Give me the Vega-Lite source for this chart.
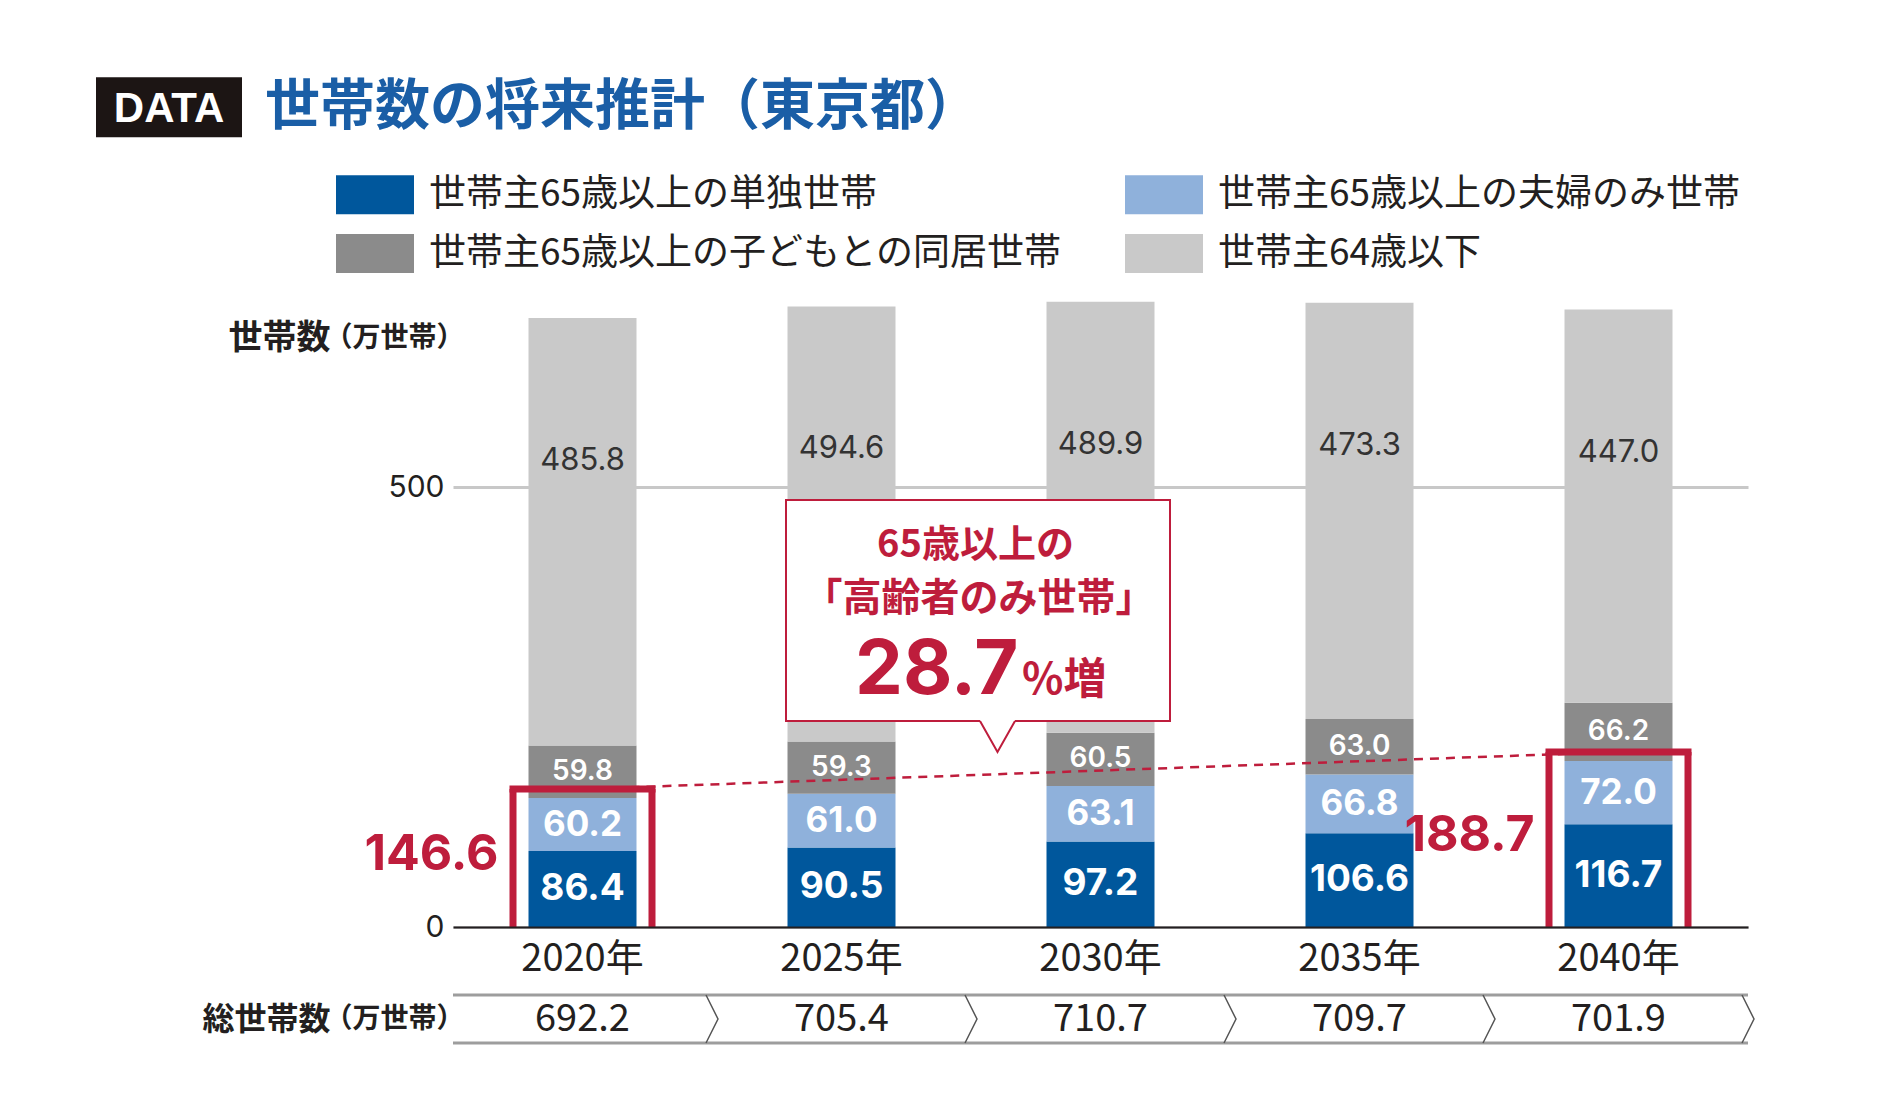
{
  "$schema": "https://vega.github.io/schema/vega-lite/v6.json",
  "width": 1295,
  "height": 651,
  "autosize": {"type": "none"},
  "padding": {"left": 453, "top": 276, "right": 132, "bottom": 193},
  "background": "#ffffff",
  "config": {"view": {"stroke": null}, "font": "Noto Sans CJK JP"},
  "datasets": {
    "seg": [
      {"year": "2020年", "cat": "世帯主65歳以上の単独世帯", "k": 1, "v": 86.4},
      {"year": "2020年", "cat": "世帯主65歳以上の夫婦のみ世帯", "k": 2, "v": 60.2},
      {"year": "2020年", "cat": "世帯主65歳以上の子どもとの同居世帯", "k": 3, "v": 59.8},
      {"year": "2020年", "cat": "世帯主64歳以下", "k": 4, "v": 485.8},
      {"year": "2025年", "cat": "世帯主65歳以上の単独世帯", "k": 1, "v": 90.5},
      {"year": "2025年", "cat": "世帯主65歳以上の夫婦のみ世帯", "k": 2, "v": 61.0},
      {"year": "2025年", "cat": "世帯主65歳以上の子どもとの同居世帯", "k": 3, "v": 59.3},
      {"year": "2025年", "cat": "世帯主64歳以下", "k": 4, "v": 494.6},
      {"year": "2030年", "cat": "世帯主65歳以上の単独世帯", "k": 1, "v": 97.2},
      {"year": "2030年", "cat": "世帯主65歳以上の夫婦のみ世帯", "k": 2, "v": 63.1},
      {"year": "2030年", "cat": "世帯主65歳以上の子どもとの同居世帯", "k": 3, "v": 60.5},
      {"year": "2030年", "cat": "世帯主64歳以下", "k": 4, "v": 489.9},
      {"year": "2035年", "cat": "世帯主65歳以上の単独世帯", "k": 1, "v": 106.6},
      {"year": "2035年", "cat": "世帯主65歳以上の夫婦のみ世帯", "k": 2, "v": 66.8},
      {"year": "2035年", "cat": "世帯主65歳以上の子どもとの同居世帯", "k": 3, "v": 63.0},
      {"year": "2035年", "cat": "世帯主64歳以下", "k": 4, "v": 473.3},
      {"year": "2040年", "cat": "世帯主65歳以上の単独世帯", "k": 1, "v": 116.7},
      {"year": "2040年", "cat": "世帯主65歳以上の夫婦のみ世帯", "k": 2, "v": 72.0},
      {"year": "2040年", "cat": "世帯主65歳以上の子どもとの同居世帯", "k": 3, "v": 66.2},
      {"year": "2040年", "cat": "世帯主64歳以下", "k": 4, "v": 447.0}
    ],
    "tot": [
      {"year": "2020年", "total": 692.2},
      {"year": "2025年", "total": 705.4},
      {"year": "2030年", "total": 710.7},
      {"year": "2035年", "total": 709.7},
      {"year": "2040年", "total": 701.9}
    ],
    "elderly": [
      {"year": "2020年", "v": 146.6},
      {"year": "2040年", "v": 188.7}
    ],
    "one": [{}]
  },
  "layer": [
    {
      "data": {"name": "seg"},
      "mark": {"type": "bar", "width": 108, "opacity": 1},
      "encoding": {
        "x": {
          "field": "year", "type": "nominal", "title": null,
          "scale": {"domain": ["2020年", "2025年", "2030年", "2035年", "2040年"], "paddingInner": 0, "paddingOuter": 0},
          "axis": {"ticks": false, "labelAngle": 0, "labelFontSize": 38, "labelPadding": 13, "labelColor": "#231f20", "labelFont": "Noto Sans CJK JP", "domainColor": "#231f20", "domainWidth": 2, "zindex": 1}
        },
        "y": {
          "field": "v", "type": "quantitative", "stack": "zero", "title": null,
          "scale": {"domain": [0, 740], "nice": false},
          "axis": {"values": [0, 500], "ticks": false, "domain": false, "grid": true, "gridColor": "#c8c8c8", "gridWidth": 3, "labelFontSize": 30, "labelPadding": 9, "labelColor": "#231f20", "labelFont": "Inter"}
        },
        "color": {
          "field": "cat", "type": "nominal",
          "scale": {
            "domain": ["世帯主65歳以上の単独世帯", "世帯主65歳以上の夫婦のみ世帯", "世帯主65歳以上の子どもとの同居世帯", "世帯主64歳以下"],
            "range": ["#00579c", "#8fb1db", "#8b8b8b", "#c9c9c9"]
          },
          "legend": {
            "orient": "none", "direction": "horizontal", "legendX": -117, "legendY": -120.5, "columns": 2, "title": null,
            "symbolType": "M-1,-0.5H1V0.5H-1Z", "symbolSize": 6084, "symbolStrokeWidth": 0, "symbolOpacity": 1,
            "labelFontSize": 37, "labelFont": "Noto Sans CJK JP", "labelColor": "#231f20", "labelOffset": 15, "labelLimit": 1200,
            "columnPadding": 62, "rowPadding": 0, "padding": 0
          }
        },
        "order": {"field": "k", "type": "quantitative"}
      }
    },
    {
      "data": {"name": "seg"},
      "mark": {"type": "text", "font": "Inter", "fontWeight": "bold", "fill": "#ffffff", "baseline": "middle"},
      "encoding": {
        "x": {"field": "year", "type": "nominal", "title": null},
        "y": {"field": "v", "type": "quantitative", "stack": "zero", "bandPosition": 0.5, "title": null},
        "detail": {"field": "cat"},
        "order": {"field": "k", "type": "quantitative"},
        "size": {"condition": {"test": "datum.k == 1", "value": 37}, "value": 35},
        "text": {"field": "v", "type": "quantitative", "format": ".1f", "condition": {"test": "datum.k > 2", "value": ""}}
      }
    },
    {
      "data": {"name": "seg"},
      "mark": {"type": "text", "font": "Inter", "fontWeight": 600, "fontSize": 28, "fill": "#ffffff", "baseline": "middle"},
      "encoding": {
        "x": {"field": "year", "type": "nominal", "title": null},
        "y": {"field": "v", "type": "quantitative", "stack": "zero", "bandPosition": 0.5, "title": null},
        "detail": {"field": "cat"},
        "order": {"field": "k", "type": "quantitative"},
        "text": {"field": "v", "type": "quantitative", "format": ".1f", "condition": {"test": "datum.k != 3", "value": ""}}
      }
    },
    {
      "data": {"name": "seg"},
      "mark": {"type": "text", "font": "Inter", "fontWeight": "normal", "fontSize": 31, "fill": "#333333", "baseline": "middle", "dy": 143},
      "encoding": {
        "x": {"field": "year", "type": "nominal", "title": null},
        "y": {"field": "v", "type": "quantitative", "stack": "zero", "title": null},
        "detail": {"field": "cat"},
        "order": {"field": "k", "type": "quantitative"},
        "text": {"field": "v", "type": "quantitative", "format": ".1f", "condition": {"test": "datum.k != 4", "value": ""}}
      }
    },
    {
      "data": {"name": "elderly"},
      "mark": {"type": "line", "stroke": "#be1d3c", "strokeWidth": 2.5, "strokeDash": [9, 7], "yOffset": -9},
      "encoding": {
        "x": {"field": "year", "type": "nominal", "title": null},
        "y": {"field": "v", "type": "quantitative", "title": null}
      }
    },
    {
      "data": {"name": "elderly"},
      "mark": {"type": "rule", "stroke": "#be1d3c", "strokeWidth": 7, "xOffset": -69.5, "yOffset": -9},
      "encoding": {
        "x": {"field": "year", "type": "nominal", "title": null},
        "y": {"field": "v", "type": "quantitative", "title": null},
        "y2": {"datum": 0}
      }
    },
    {
      "data": {"name": "elderly"},
      "mark": {"type": "rule", "stroke": "#be1d3c", "strokeWidth": 7, "xOffset": 69.5, "yOffset": -9},
      "encoding": {
        "x": {"field": "year", "type": "nominal", "title": null},
        "y": {"field": "v", "type": "quantitative", "title": null},
        "y2": {"datum": 0}
      }
    },
    {
      "data": {"name": "elderly"},
      "mark": {"type": "tick", "color": "#be1d3c", "size": 146, "thickness": 7, "opacity": 1, "orient": "horizontal", "yOffset": -9},
      "encoding": {
        "x": {"field": "year", "type": "nominal", "title": null},
        "y": {"field": "v", "type": "quantitative", "title": null}
      }
    },
    {
      "data": {"name": "elderly"},
      "mark": {"type": "text", "font": "Inter", "fontWeight": "bold", "fontSize": 50, "fill": "#be1d3c", "align": "right", "baseline": "middle", "dx": -84, "dy": -8},
      "encoding": {
        "x": {"field": "year", "type": "nominal", "title": null},
        "y": {"field": "v", "type": "quantitative", "stack": "zero", "bandPosition": 0.5, "title": null},
        "detail": {"field": "year"},
        "text": {"field": "v", "type": "quantitative", "format": ".1f"}
      }
    },
    {
      "data": {"name": "one"},
      "mark": {"type": "rule", "stroke": "#9d9d9d", "strokeWidth": 3, "yOffset": 68},
      "encoding": {"y": {"datum": 0, "type": "quantitative"}}
    },
    {
      "data": {"name": "one"},
      "mark": {"type": "rule", "stroke": "#9d9d9d", "strokeWidth": 3, "yOffset": 116},
      "encoding": {"y": {"datum": 0, "type": "quantitative"}}
    },
    {
      "data": {"name": "tot"},
      "mark": {"type": "point", "shape": "M-0.25,-1L0.25,0L-0.25,1", "size": 2304, "filled": false, "stroke": "#555555", "strokeWidth": 1.5, "opacity": 1, "xOffset": 129.5, "yOffset": 92},
      "encoding": {
        "x": {"field": "year", "type": "nominal", "title": null},
        "y": {"datum": 0, "type": "quantitative"}
      }
    },
    {
      "data": {"name": "tot"},
      "mark": {"type": "text", "fontSize": 38, "fill": "#231f20", "baseline": "middle", "dy": 93},
      "encoding": {
        "x": {"field": "year", "type": "nominal", "title": null},
        "y": {"datum": 0, "type": "quantitative"},
        "text": {"field": "total", "type": "quantitative", "format": ".1f"}
      }
    },
    {
      "data": {"name": "one"},
      "mark": {"type": "text", "fontSize": 28, "fontWeight": "bold", "fill": "#231f20", "align": "right", "baseline": "middle", "dx": -118, "text": "（万世帯）"},
      "encoding": {"x": {"datum": "2020年"}, "y": {"datum": 668.2, "type": "quantitative"}}
    },
    {
      "data": {"name": "one"},
      "mark": {"type": "text", "fontSize": 34, "fontWeight": "bold", "fill": "#231f20", "align": "right", "baseline": "middle", "dx": -252, "text": "世帯数"},
      "encoding": {"x": {"datum": "2020年"}, "y": {"datum": 668.2, "type": "quantitative"}}
    },
    {
      "data": {"name": "one"},
      "mark": {"type": "text", "fontSize": 28, "fontWeight": "bold", "fill": "#231f20", "align": "right", "baseline": "middle", "dx": -118, "dy": 93, "text": "（万世帯）"},
      "encoding": {"x": {"datum": "2020年"}, "y": {"datum": 0, "type": "quantitative"}}
    },
    {
      "data": {"name": "one"},
      "mark": {"type": "text", "fontSize": 32, "fontWeight": "bold", "fill": "#231f20", "align": "right", "baseline": "middle", "dx": -252, "dy": 93, "text": "総世帯数"},
      "encoding": {"x": {"datum": "2020年"}, "y": {"datum": 0, "type": "quantitative"}}
    },
    {
      "data": {"name": "one"},
      "mark": {"type": "point", "shape": "M-1,-0.5755H1V0.5755H-1Z", "size": 147456, "filled": true, "fill": "#ffffff", "stroke": "#be1d3c", "strokeWidth": 2, "opacity": 1, "xOffset": 136.5},
      "encoding": {"x": {"datum": "2025年"}, "y": {"datum": 359.7, "type": "quantitative"}}
    },
    {
      "data": {"name": "one"},
      "mark": {"type": "point", "shape": "M-1,-1.1L1,-1.1L1,-0.886L0,0.886L-1,-0.886Z", "size": 1225, "filled": true, "fill": "#ffffff", "strokeWidth": 0, "opacity": 1, "xOffset": 156, "yOffset": 126},
      "encoding": {"x": {"datum": "2025年"}, "y": {"datum": 359.7, "type": "quantitative"}}
    },
    {
      "data": {"name": "one"},
      "mark": {"type": "point", "shape": "M-1,-0.886L0,0.886L1,-0.886", "size": 1225, "filled": false, "stroke": "#be1d3c", "strokeWidth": 2, "opacity": 1, "xOffset": 156, "yOffset": 126},
      "encoding": {"x": {"datum": "2025年"}, "y": {"datum": 359.7, "type": "quantitative"}}
    },
    {
      "data": {"name": "one"},
      "mark": {"type": "text", "fontSize": 38, "fontWeight": "bold", "fill": "#be1d3c", "align": "center", "baseline": "middle", "dx": 134, "dy": -65, "text": "65歳以上の"},
      "encoding": {"x": {"datum": "2025年"}, "y": {"datum": 359.7, "type": "quantitative"}}
    },
    {
      "data": {"name": "one"},
      "mark": {"type": "text", "fontSize": 39, "fontWeight": "bold", "fill": "#be1d3c", "align": "center", "baseline": "middle", "dx": 137.5, "dy": -12, "text": "「高齢者のみ世帯」"},
      "encoding": {"x": {"datum": "2025年"}, "y": {"datum": 359.7, "type": "quantitative"}}
    },
    {
      "data": {"name": "one"},
      "mark": {"type": "text", "font": "Inter", "fontSize": 76, "fontWeight": "bold", "fill": "#be1d3c", "align": "right", "baseline": "alphabetic", "dx": 177, "dy": 83, "text": "28.7"},
      "encoding": {"x": {"datum": "2025年"}, "y": {"datum": 359.7, "type": "quantitative"}}
    },
    {
      "data": {"name": "one"},
      "mark": {"type": "text", "fontSize": 43, "fontWeight": "bold", "fill": "#be1d3c", "align": "left", "baseline": "alphabetic", "dx": 180.5, "dy": 83, "text": "%増"},
      "encoding": {"x": {"datum": "2025年"}, "y": {"datum": 359.7, "type": "quantitative"}}
    },
    {
      "data": {"name": "one"},
      "mark": {"type": "point", "shape": "M-1,-0.41H1V0.41H-1Z", "size": 21316, "filled": true, "fill": "#1c1514", "strokeWidth": 0, "opacity": 1, "xOffset": -413.5},
      "encoding": {"x": {"datum": "2020年"}, "y": {"datum": 931.8, "type": "quantitative"}}
    },
    {
      "data": {"name": "one"},
      "mark": {"type": "text", "font": "Liberation Sans Narrow, Liberation Sans", "fontSize": 42, "fontWeight": "bold", "fill": "#ffffff", "align": "center", "baseline": "middle", "dx": -413.5, "dy": 2, "text": "DATA"},
      "encoding": {"x": {"datum": "2020年"}, "y": {"datum": 931.8, "type": "quantitative"}}
    },
    {
      "data": {"name": "one"},
      "mark": {"type": "text", "fontSize": 55, "fontWeight": "bold", "fill": "#1a5ea6", "align": "left", "baseline": "middle", "dx": -317.5, "text": "世帯数の将来推計（東京都）"},
      "encoding": {"x": {"datum": "2020年"}, "y": {"datum": 931.8, "type": "quantitative"}}
    }
  ]
}
